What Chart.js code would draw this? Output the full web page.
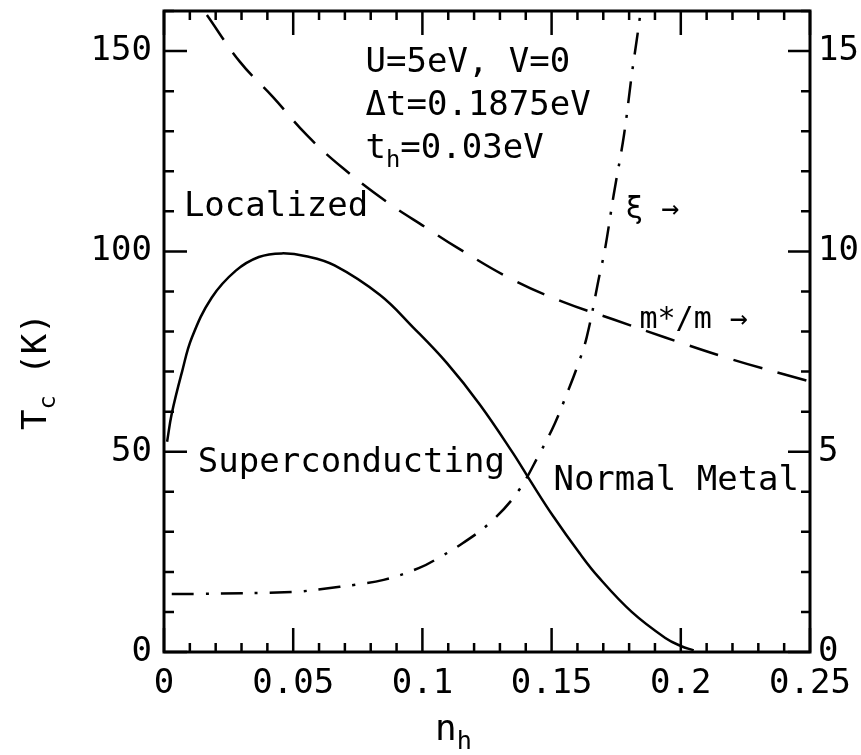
<!DOCTYPE html>
<html>
<head>
<meta charset="utf-8">
<script src="https://cdn.jsdelivr.net/npm/chart.js@4.4.0/dist/chart.umd.min.js"></script>
<style>
  html, body { margin: 0; padding: 0; background: #fff; }
  canvas { display: block; }
</style>
</head>
<body>
<canvas id="tc-chart" width="861" height="755"></canvas>
<script>
// Tc (K) vs hole density n_h  (left axis)
const tcDensity = [0.0012, 0.003, 0.007, 0.0108, 0.0185, 0.0278, 0.0367, 0.0456, 0.055, 0.066, 0.0836, 0.0963, 0.1095, 0.1222, 0.135, 0.1416, 0.1505, 0.161, 0.168, 0.181, 0.194, 0.2, 0.205];
const tcKelvin  = [52.5, 59.5, 70, 78.5, 88.5, 95.2, 98.6, 99.5, 98.8, 96.5, 89.1, 81.1, 72.1, 61.8, 49.7, 42.9, 34, 24.5, 18.8, 10, 3.5, 1.5, 0.4];

// effective mass ratio m*/m  (right axis)
const massDensity = [0.0166, 0.0294, 0.0422, 0.0553, 0.0692, 0.0863, 0.1017, 0.1133, 0.135, 0.1544, 0.174, 0.194, 0.22, 0.25];
const massRatio   = [15.9, 14.73, 13.85, 12.9, 12.08, 11.23, 10.58, 10.1, 9.29, 8.74, 8.3, 7.85, 7.3, 6.75];

// coherence length xi  (right axis)
const xiDensity = [0.003, 0.014, 0.05, 0.062, 0.074, 0.085, 0.0988, 0.1068, 0.1157, 0.126, 0.1366, 0.1455, 0.1512, 0.156, 0.1598, 0.1636, 0.1687, 0.1706, 0.174, 0.178, 0.181, 0.183, 0.1845];
const xiLength  = [1.45, 1.45, 1.5, 1.58, 1.68, 1.8, 2.1, 2.37, 2.72, 3.22, 3.97, 4.97, 5.7, 6.46, 7.1, 7.86, 9.46, 10.03, 11.4, 12.9, 14.4, 15.3, 16.0];

const xTicks = [0, 0.05, 0.1, 0.15, 0.2, 0.25];
const xTickLabels = ['0', '0.05', '0.1', '0.15', '0.2', '0.25'];
const leftTicks = [0, 50, 100, 150];
const rightTicks = [0, 5, 10, 15];

const FONT = "'DejaVu Sans Mono', 'Liberation Mono', monospace";

function toPoints(xs, ys) {
    return xs.map((x, i) => ({ x: x, y: ys[i] }));
}

// draws text with optional subscript parts: [['T', false], ['c', true], ...]
function drawRich(ctx, parts, x, y, size) {
    let cx = x;
    parts.forEach(p => {
        let fs = p[1] ? size * 0.7 : size;
        ctx.font = fs + 'px ' + FONT;
        ctx.fillText(p[0], cx, p[1] ? y + size * 0.25 : y);
        cx += ctx.measureText(p[0]).width;
    });
}

const framePlugin = {
    id: 'frame',
    afterDatasetsDraw(chart) {
        const ctx = chart.ctx;
        const a = chart.chartArea;
        const sx = chart.scales.x, sy = chart.scales.y, sy2 = chart.scales.y2;
        ctx.save();
        ctx.strokeStyle = '#000';
        ctx.lineWidth = 3;
        ctx.strokeRect(a.left, a.top, a.right - a.left, a.bottom - a.top);

        ctx.lineWidth = 2.5;
        ctx.beginPath();
        // x ticks, bottom and top
        for (let i = 0; i <= 25; i++) {
            let px = sx.getPixelForValue(i * 0.01);
            let len = (i % 5 === 0) ? 24 : 9;
            ctx.moveTo(px, a.bottom); ctx.lineTo(px, a.bottom - len);
            ctx.moveTo(px, a.top); ctx.lineTo(px, a.top + len);
        }
        // left ticks
        for (let v = 0; v <= 160; v += 10) {
            let py = sy.getPixelForValue(v);
            let len = (v % 50 === 0) ? 23 : 10;
            ctx.moveTo(a.left, py); ctx.lineTo(a.left + len, py);
        }
        // right ticks
        for (let v = 0; v <= 16; v += 1) {
            let py = sy2.getPixelForValue(v);
            let len = (v % 5 === 0) ? 22 : 9;
            ctx.moveTo(a.right, py); ctx.lineTo(a.right - len, py);
        }
        ctx.stroke();

        // annotations, placed in data units (x, Tc)
        ctx.fillStyle = '#000';
        ctx.textBaseline = 'alphabetic';
        ctx.textAlign = 'left';
        const at = (x, t) => [sx.getPixelForValue(x), sy.getPixelForValue(t)];
        let p;
        p = at(0.078, 144.8); drawRich(ctx, [['U=5eV, V=0', false]], p[0], p[1], 34);
        p = at(0.078, 134);   drawRich(ctx, [['\u0394t=0.1875eV', false]], p[0], p[1], 34);
        p = at(0.078, 123.3); drawRich(ctx, [['t', false], ['h', true], ['=0.03eV', false]], p[0], p[1], 34);
        p = at(0.0077, 108.8); drawRich(ctx, [['Localized', false]], p[0], p[1], 34);
        p = at(0.1785, 108.3); drawRich(ctx, [['\u03be \u2192', false]], p[0], p[1], 30);
        p = at(0.184, 80.9);  drawRich(ctx, [['m*/m \u2192', false]], p[0], p[1], 30);
        p = at(0.0131, 44.9); drawRich(ctx, [['Superconducting', false]], p[0], p[1], 34);
        p = at(0.1507, 40.4); drawRich(ctx, [['Normal Metal', false]], p[0], p[1], 34);

        // axis titles
        drawRich(ctx, [['n', false], ['h', true]], 435, 740, 36);
        ctx.translate(46, 430);
        ctx.rotate(-Math.PI / 2);
        drawRich(ctx, [['T', false], ['c', true], [' (K)', false]], 0, 0, 34);
        ctx.restore();
    }
};

const ctx = document.getElementById('tc-chart').getContext('2d');
const lineStyle = { fill: false, pointRadius: 0, borderColor: '#000', borderWidth: 2.5, showLine: true, tension: 0.4 };

function noPad(s) {
    s.paddingTop = 0; s.paddingBottom = 0; s.paddingLeft = 0; s.paddingRight = 0;
}

window.tcChart = new Chart(ctx, {
    type: 'scatter',
    data: {
        datasets: [
            Object.assign({ label: 'Tc', data: toPoints(tcDensity, tcKelvin), yAxisID: 'y' }, lineStyle),
            Object.assign({ label: 'm*/m', data: toPoints(massDensity, massRatio), yAxisID: 'y2', borderDash: [30, 16] }, lineStyle),
            Object.assign({ label: 'xi', data: toPoints(xiDensity, xiLength), yAxisID: 'y2', borderDash: [22, 12, 3, 12] }, lineStyle)
        ]
    },
    options: {
        responsive: false,
        animation: false,
        layout: { padding: { top: 11, left: 0, right: 0, bottom: 0 } },
        scales: {
            x: {
                type: 'linear', min: 0, max: 0.25,
                grid: { display: false, drawTicks: false },
                border: { display: false },
                afterBuildTicks: s => { s.ticks = xTicks.map(v => ({ value: v })); },
                afterFit: s => { s.height = 103; noPad(s); },
                ticks: {
                    color: '#000', padding: 12, maxRotation: 0,
                    font: { family: FONT, size: 34 },
                    callback: (v) => xTickLabels[xTicks.indexOf(v)]
                }
            },
            y: {
                position: 'left', min: 0, max: 160,
                grid: { display: false, drawTicks: false },
                border: { display: false },
                afterBuildTicks: s => { s.ticks = leftTicks.map(v => ({ value: v })); },
                afterFit: s => { s.width = 164; noPad(s); },
                ticks: { color: '#000', padding: 12, font: { family: FONT, size: 34 } }
            },
            y2: {
                position: 'right', min: 0, max: 16,
                grid: { display: false, drawTicks: false },
                border: { display: false },
                afterBuildTicks: s => { s.ticks = rightTicks.map(v => ({ value: v })); },
                afterFit: s => { s.width = 51; noPad(s); },
                ticks: { color: '#000', padding: 8, font: { family: FONT, size: 34 } }
            }
        },
        plugins: {
            legend: { display: false },
            tooltip: { enabled: false }
        }
    },
    plugins: [framePlugin]
});
</script>
</body>
</html>
